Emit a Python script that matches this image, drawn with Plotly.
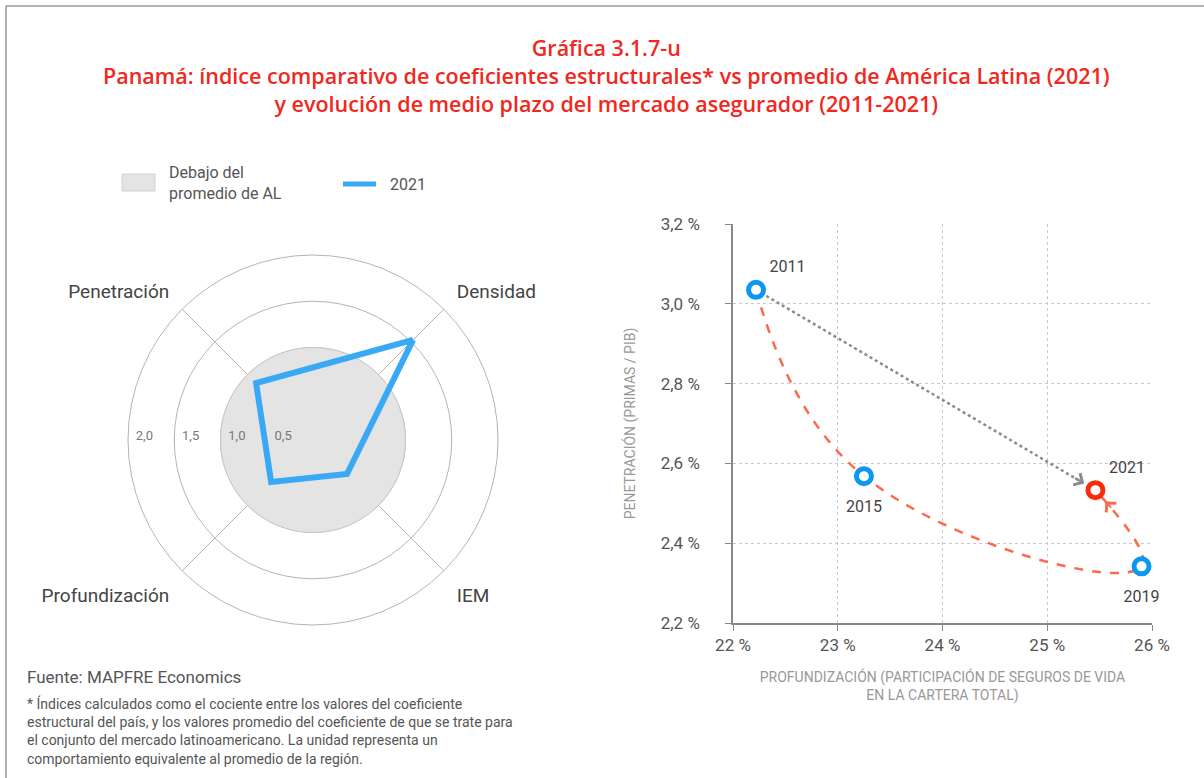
import plotly.graph_objects as go

# ---------------- data ----------------
radar_categories = ["Densidad", "IEM", "Profundización", "Penetración"]
radar_2021 = [1.53, 0.52, 0.64, 0.87]
avg_level = [1.0]
radial_ticks = [0.5, 1.0, 1.5, 2.0]
radial_labels = ["0,5", "1,0", "1,5", "2,0"]

years = ["2011", "2015", "2019", "2021"]
profundizacion = [22.22, 23.25, 25.90, 25.46]   # %
penetracion = [3.035, 2.568, 2.342, 2.533]        # %

x_ticks = [22, 23, 24, 25, 26]
x_labels = ["22 %", "23 %", "24 %", "25 %", "26 %"]
y_ticks = [2.2, 2.4, 2.6, 2.8, 3.0, 3.2]
y_labels = ["2,2 %", "2,4 %", "2,6 %", "2,8 %", "3,0 %", "3,2 %"]

# styles (per point)
point_colors = ["#0c98f2", "#0c98f2", "#0c98f2", "#fa2a0c"]
label_pos = ["top right", "bottom center", "bottom center", "top right"]
label_gap = [20, 36, 36, 20]

W, H = 1204, 778
TXT = "#555555"
FONT = "Roboto, Arial, sans-serif"
RADIAL_LABEL_SHIFT = 0.27   # draw ring labels just inside each ring (style offset)

# angular position of each radar category (first at 45°, then clockwise every 90°)
radar_angles = [45 - 90 * i for i in range(len(radar_categories))]

fig = go.Figure()

# ---------------- radar ----------------
fig.add_trace(go.Barpolar(
    r=avg_level, theta=[0], width=[360],
    marker=dict(color="#e4e4e4", line=dict(color="#c9c9c9", width=1)),
    showlegend=False, hoverinfo="skip", subplot="polar",
))
fig.add_trace(go.Scatterpolar(
    r=radar_2021 + radar_2021[:1],
    theta=radar_angles + radar_angles[:1],
    mode="lines", line=dict(color="#3aa9f5", width=6),
    showlegend=False, subplot="polar2",
))

# ---------------- scatter ----------------
x_dom = [733 / W, 1152 / W]
y_dom = [1 - 623 / H, 1 - 224 / H]
px_x = (x_dom[1] - x_dom[0]) * W / (x_ticks[-1] - x_ticks[0])
px_y = (y_dom[1] - y_dom[0]) * H / (y_ticks[-1] - y_ticks[0])

# gray dotted trend 2011 -> 2021 (shortened to stop at arrow tip)
dxp = (profundizacion[3] - profundizacion[0]) * px_x
dyp = (penetracion[3] - penetracion[0]) * px_y
L = (dxp ** 2 + dyp ** 2) ** 0.5
frac = 1 - 15 / L
fig.add_trace(go.Scatter(
    x=[profundizacion[0], profundizacion[0] + frac * (profundizacion[3] - profundizacion[0])],
    y=[penetracion[0], penetracion[0] + frac * (penetracion[3] - penetracion[0])],
    mode="lines", line=dict(color="#8a8a8a", width=2.5, dash="dot"),
    showlegend=False, hoverinfo="skip", xaxis="x", yaxis="y",
))
# red dashed path through the years
fig.add_trace(go.Scatter(
    x=profundizacion, y=penetracion, mode="lines",
    line=dict(color="#fb6a4c", width=2.5, dash="dash", shape="spline", smoothing=1.3),
    showlegend=False, hoverinfo="skip", xaxis="x", yaxis="y",
))
# year markers
fig.add_trace(go.Scatter(
    x=profundizacion, y=penetracion, mode="markers", cliponaxis=False,
    marker=dict(size=15, color="white", line=dict(color=point_colors, width=5)),
    showlegend=False, xaxis="x", yaxis="y",
))
# year labels
fig.add_trace(go.Scatter(
    x=profundizacion, y=penetracion, mode="markers+text",
    text=years, textposition=label_pos, cliponaxis=False,
    textfont=dict(size=16, color="#444444", family=FONT),
    marker=dict(size=label_gap, color="rgba(0,0,0,0)", line=dict(width=0)),
    showlegend=False, hoverinfo="skip", xaxis="x", yaxis="y",
))

annotations = []
# arrowheads
annotations.append(dict(x=profundizacion[3], y=penetracion[3], xref="x", yref="y",
                        ax=-22, ay=-13, text="", showarrow=True, arrowhead=4,
                        arrowsize=1.3, arrowwidth=2, arrowcolor="#8a8a8a", standoff=13))
annotations.append(dict(x=profundizacion[3], y=penetracion[3], xref="x", yref="y",
                        ax=17, ay=19, text="", showarrow=True, arrowhead=4,
                        arrowsize=1.3, arrowwidth=2, arrowcolor="#fb6a4c", standoff=15))

# title
annotations.append(dict(
    x=606 / W, y=1 - 31 / H, xref="paper", yref="paper", xanchor="center", yanchor="top",
    text="Gráfica 3.1.7-u<br>Panamá: índice comparativo de coeficientes estructurales* vs promedio de América Latina (2021)<br>y evolución de medio plazo del mercado asegurador (2011-2021)",
    showarrow=False, font=dict(size=21.5, color="#f0281e", family="Open Sans, Roboto, sans-serif", weight=600),
))
# manual legend
annotations.append(dict(x=167 / W, y=1 - 183 / H, xref="paper", yref="paper",
                        xanchor="left", yanchor="middle", align="left",
                        text="Debajo del<br>promedio de AL", showarrow=False,
                        font=dict(size=16, color=TXT, family=FONT)))
annotations.append(dict(x=388 / W, y=1 - 184 / H, xref="paper", yref="paper",
                        xanchor="left", yanchor="middle", text="2021", showarrow=False,
                        font=dict(size=16, color=TXT, family=FONT)))
# sources
annotations.append(dict(x=25 / W, y=1 - 677 / H, xref="paper", yref="paper",
                        xanchor="left", yanchor="middle", text="Fuente: MAPFRE Economics",
                        showarrow=False, font=dict(size=17, color=TXT, family=FONT)))
annotations.append(dict(
    x=25 / W, y=1 - 693 / H, xref="paper", yref="paper", xanchor="left", yanchor="top",
    align="left", showarrow=False, font=dict(size=14, color=TXT, family=FONT),
    text="* Índices calculados como el cociente entre los valores del coeficiente<br>"
         "estructural del país, y los valores promedio del coeficiente de que se trate para<br>"
         "el conjunto del mercado latinoamericano. La unidad representa un<br>"
         "comportamiento equivalente al promedio de la región.",
))

shapes = [
    dict(type="rect", xref="paper", yref="paper", x0=122 / W, x1=155 / W,
         y0=1 - 191 / H, y1=1 - 174 / H, fillcolor="#e4e4e4",
         line=dict(color="#d2d2d2", width=1)),
    dict(type="line", xref="paper", yref="paper", x0=343 / W, x1=376 / W,
         y0=1 - 184 / H, y1=1 - 184 / H, line=dict(color="#3aa9f5", width=5)),
    # frame
    dict(type="line", xref="paper", yref="paper", x0=6 / W, x1=1.0,
         y0=1 - 6 / H, y1=1 - 6 / H, line=dict(color="#9a9a9a", width=1.5)),
    dict(type="line", xref="paper", yref="paper", x0=6 / W, x1=6 / W,
         y0=0, y1=1 - 6 / H, line=dict(color="#9a9a9a", width=1.5)),
]

polar_domain = dict(x=[128 / W, 498 / W], y=[1 - 625 / H, 1 - 255 / H])
fig.update_layout(
    width=W, height=H, margin=dict(l=0, r=0, t=0, b=0, pad=0, autoexpand=False),
    paper_bgcolor="white", plot_bgcolor="white",
    font=dict(family=FONT, color=TXT),
    separators=",.",
    showlegend=False,
    annotations=annotations, shapes=shapes,
    polar=dict(
        domain=polar_domain,
        bgcolor="white",
        radialaxis=dict(range=[0, 2.0], tickvals=radial_ticks, showticklabels=False,
                        angle=180, showline=False, ticks="",
                        gridcolor="#b5b5b5", gridwidth=1),
        angularaxis=dict(thetaunit="degrees", rotation=0, direction="counterclockwise",
                         tickvals=[a % 360 for a in radar_angles], ticktext=radar_categories,
                         showline=True, linecolor="#b5b5b5", linewidth=1,
                         gridcolor="#b5b5b5", gridwidth=1,
                         ticks="outside", ticklen=14, tickcolor="rgba(0,0,0,0)",
                         tickfont=dict(size=19, color="#444444", family=FONT)),
    ),
    # overlay: radar line + ring labels placed just inside each ring
    polar2=dict(
        domain=polar_domain,
        bgcolor="rgba(0,0,0,0)",
        radialaxis=dict(range=[0, 2.0],
                        tickvals=[v - RADIAL_LABEL_SHIFT for v in radial_ticks],
                        ticktext=radial_labels,
                        angle=180, tickangle=180, showline=False, ticks="",
                        showgrid=False,
                        tickfont=dict(size=13, color="#777777", family=FONT)),
        angularaxis=dict(thetaunit="degrees", rotation=0, direction="counterclockwise",
                         visible=False, showgrid=False, showline=False),
    ),
    xaxis=dict(domain=x_dom, range=[x_ticks[0], x_ticks[-1]], tickvals=x_ticks,
               ticktext=x_labels, showline=True, linecolor="#888888", linewidth=1.5,
               ticks="outside", ticklen=6, tickcolor="#888888",
               showgrid=True, gridcolor="#c8c8c8", griddash="dot", zeroline=False,
               tickfont=dict(size=17, color=TXT, family=FONT), automargin=False,
               title=dict(text="PROFUNDIZACIÓN (PARTICIPACIÓN DE SEGUROS DE VIDA<br>EN LA CARTERA TOTAL)",
                          font=dict(size=14, color="#999999", family=FONT), standoff=18),
               anchor="y"),
    yaxis=dict(domain=y_dom, range=[y_ticks[0], y_ticks[-1]], tickvals=y_ticks,
               ticktext=y_labels, showline=True, linecolor="#888888",
               linewidth=1.5, ticks="outside", ticklen=6, tickcolor="#888888",
               ticklabelstandoff=22,
               showgrid=True, gridcolor="#c8c8c8", griddash="dot", zeroline=False,
               tickfont=dict(size=17, color=TXT, family=FONT), automargin=False,
               title=dict(text="PENETRACIÓN (PRIMAS / PIB)",
                          font=dict(size=14, color="#999999", family=FONT), standoff=22),
               anchor="x"),
)

fig.write_html("out.html", post_script="document.body.style.margin='0px';",
               config={"responsive": False, "displayModeBar": False})
